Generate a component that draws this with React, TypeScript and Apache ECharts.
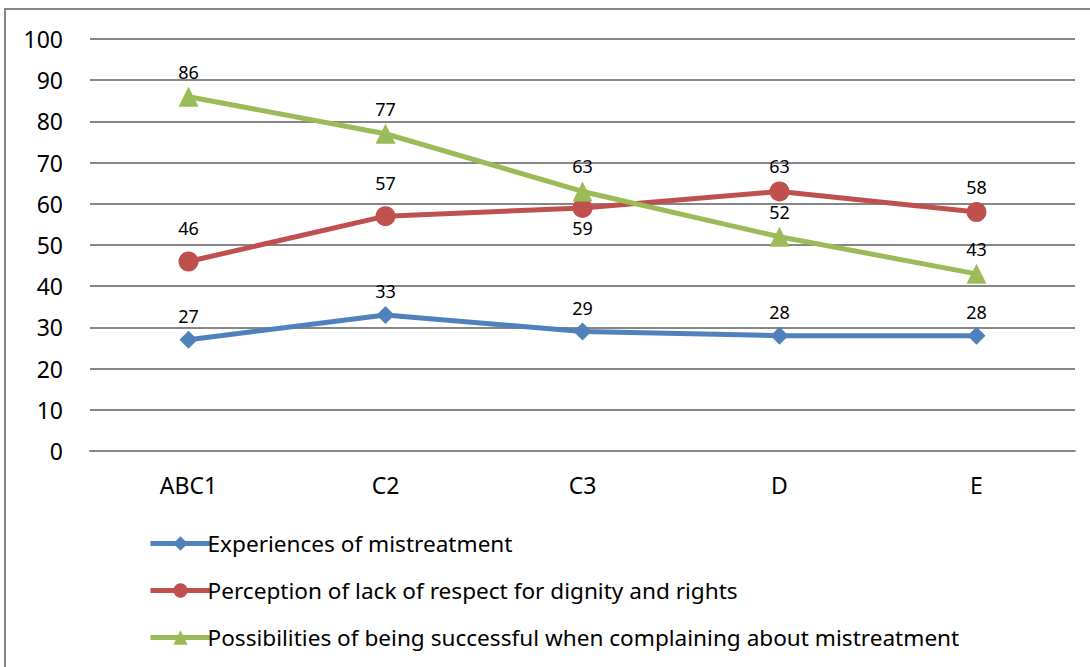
import React, { useEffect, useRef } from "react";
import * as echarts from "echarts";

const categories = ["ABC1", "C2", "C3", "D", "E"];
const experiences = [27, 33, 29, 28, 28];
const perception = [46, 57, 59, 63, 58];
const possibilities = [86, 77, 63, 52, 43];
const perceptionLabelPos = ["top", "top", "bottom", "top", "top"];
const perceptionLabelDist = [14, 14, 1, 6, 6];

const FONT = "'Noto Sans', 'Open Sans', sans-serif";

export default function App() {
  const ref = useRef<HTMLDivElement>(null);
  useEffect(() => {
    document.body.style.margin = "0";
    const chart = echarts.init(ref.current!, null, { renderer: "svg" });
    const labelBase = {
      show: true,
      color: "#000",
      fontSize: 18,
      fontFamily: FONT,
      distance: 6,
    };
    chart.setOption({
      animation: false,
      backgroundColor: "#fff",
      textStyle: { fontFamily: FONT },
      grid: { left: 90, right: 15, top: 39, bottom: 216, containLabel: false },
      xAxis: {
        type: "category",
        data: categories,
        boundaryGap: true,
        axisLine: { show: true, lineStyle: { color: "#868686", width: 2 } },
        axisTick: { show: false },
        axisLabel: { color: "#000", fontSize: 23, fontFamily: FONT, margin: 22 },
      },
      yAxis: {
        type: "value",
        min: 0,
        max: 100,
        interval: 10,
        axisLine: { show: false },
        axisTick: { show: false },
        axisLabel: { color: "#000", fontSize: 23, fontFamily: FONT, margin: 27 },
        splitLine: { lineStyle: { color: "#868686", width: 2 } },
      },
      legend: {
        orient: "vertical",
        left: 143,
        top: 527,
        itemWidth: 60,
        itemHeight: 18,
        itemGap: 24,
        lineStyle: { width: 5 },
        textStyle: { color: "#000", fontSize: 22.6, fontFamily: FONT, padding: [0, 0, 0, -8] },
        data: [
          "Experiences of mistreatment",
          "Perception of lack of respect for dignity and rights",
          "Possibilities of being successful when complaining about mistreatment",
        ],
      },
      graphic: [
        {
          type: "rect",
          shape: { x: 5, y: 9, width: 1200, height: 800 },
          style: { fill: "none", stroke: "#868686", lineWidth: 2 },
          silent: true,
        },
      ],
      series: [
        {
          name: "Experiences of mistreatment",
          type: "line",
          data: experiences,
          symbol: "diamond",
          symbolSize: 18,
          lineStyle: { color: "#4F81BD", width: 5 },
          itemStyle: { color: "#4F81BD" },
          label: { ...labelBase, position: "top" },
          z: 3,
        },
        {
          name: "Perception of lack of respect for dignity and rights",
          type: "line",
          data: perception.map((v, i) => ({
            value: v,
            label: { position: perceptionLabelPos[i], distance: perceptionLabelDist[i] },
          })),
          symbol: "circle",
          symbolSize: 20,
          lineStyle: { color: "#C0504D", width: 5 },
          itemStyle: { color: "#C0504D" },
          label: { ...labelBase, position: "top" },
          z: 4,
        },
        {
          name: "Possibilities of being successful when complaining about mistreatment",
          type: "line",
          data: possibilities,
          symbol: "triangle",
          symbolSize: 20,
          lineStyle: { color: "#9BBB59", width: 5 },
          itemStyle: { color: "#9BBB59" },
          label: { ...labelBase, position: "top" },
          z: 5,
        },
      ],
    });
    return () => chart.dispose();
  }, []);
  return (
    <div
      ref={ref}
      style={{ position: "absolute", left: 0, top: 0, width: 1090, height: 667 }}
    />
  );
}
